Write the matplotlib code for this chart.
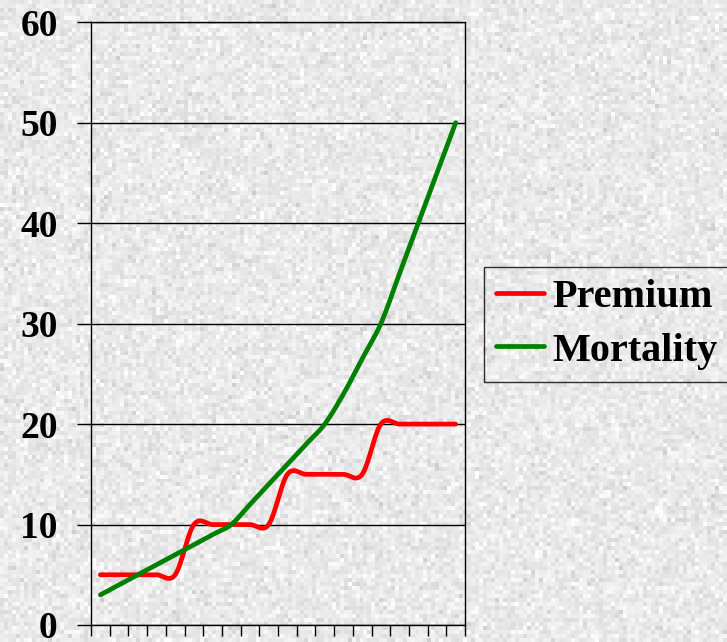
import numpy as np
import matplotlib.pyplot as plt

# Values per policy year (20 categories)
years = list(range(1, 21))
premium = [5, 5, 5, 5, 5, 10, 10, 10, 10, 10, 15, 15, 15, 15, 15, 20, 20, 20, 20, 20]
mortality = [3, 4, 5, 6, 7, 8, 9, 10, 12, 14, 16, 18, 20, 23, 26.5, 30, 35, 40, 45, 50]
y_ticks = [0, 10, 20, 30, 40, 50, 60]


def smooth(xs, ys, steps=24):
    # Catmull-Rom curve through the points, like a spreadsheet "smoothed line"
    p = np.column_stack([xs, ys]).astype(float)
    p = np.vstack([p[0], p, p[-1]])
    out = []
    for i in range(1, len(p) - 2):
        p0, p1, p2, p3 = p[i - 1], p[i], p[i + 1], p[i + 2]
        m1 = (p2 - p0) / 2
        m2 = (p3 - p1) / 2
        t = np.linspace(0, 1, steps, endpoint=(i == len(p) - 3))[:, None]
        h00 = 2 * t**3 - 3 * t**2 + 1
        h10 = t**3 - 2 * t**2 + t
        h01 = -2 * t**3 + 3 * t**2
        h11 = t**3 - t**2
        out.append(h00 * p1 + h10 * m1 + h01 * p2 + h11 * m2)
    c = np.vstack(out)
    return c[:, 0], c[:, 1]


W, H = 727, 642
fig = plt.figure(figsize=(W / 100, H / 100), dpi=100)

# grey granite backdrop
bg = fig.add_axes([0, 0, 1, 1], zorder=-10)
rng = np.random.default_rng(7)
tex = 0.915 + 0.035 * rng.standard_normal((H // 4 + 1, W // 4 + 1))
tex = np.clip(tex, 0.8, 0.99)
bg.imshow(tex, cmap='gray', vmin=0, vmax=1, interpolation='nearest', aspect='auto')
bg.axis('off')

ax = fig.add_axes([91 / W, 1 - 625 / H, (465 - 91) / W, (625 - 22.3) / H])
ax.patch.set_alpha(0)

xs = np.arange(len(years)) + 0.5
px, py = smooth(xs, premium)
mx, my = smooth(xs, mortality)
ax.plot(px, py, color='#ff0000', lw=3.4, solid_capstyle='round', label='Premium', zorder=3)
ax.plot(mx, my, color='#008000', lw=3.4, solid_capstyle='round', label='Mortality', zorder=4)

ax.set_xlim(0, len(years))
ax.set_ylim(0, 60)
ax.set_xticks(np.arange(len(years) + 1))
ax.set_xticklabels([])
ax.set_yticks(y_ticks)
ax.set_yticklabels([str(v) for v in y_ticks], fontfamily='Liberation Serif',
                   fontweight='bold', fontsize=27)
ax.tick_params(axis='x', direction='out', length=8, width=1, color='black')
ax.tick_params(axis='y', direction='out', length=10, width=1, color='black', pad=14)
ax.yaxis.grid(True, color='black', lw=1)
ax.set_axisbelow(True)
for s in ax.spines.values():
    s.set_color('black')
    s.set_linewidth(1)

leg = fig.legend(loc='upper left', bbox_to_anchor=(484 / W, 1 - 267 / H),
                 prop={'family': 'Liberation Serif', 'weight': 'bold', 'size': 29},
                 frameon=True, fancybox=False, handlelength=1.2, handletextpad=0.2,
                 borderpad=0.3, labelspacing=0.4, borderaxespad=0)
leg.get_frame().set_edgecolor('black')
leg.get_frame().set_linewidth(1)
leg.get_frame().set_facecolor('none')

fig.savefig('out.png', dpi=100)
